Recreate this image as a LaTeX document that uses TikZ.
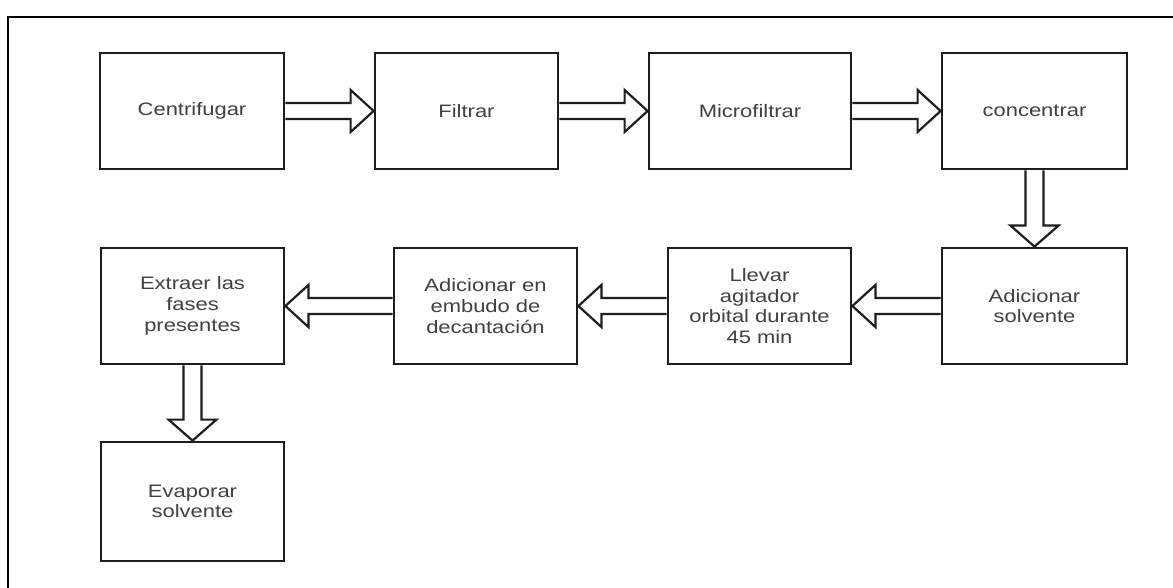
\documentclass[tikz,border=0pt]{standalone}
\usepackage{fontspec}
\setmainfont{Liberation Sans}[FakeStretch=1.22]
\usetikzlibrary{calc}
\definecolor{boxline}{HTML}{1E1E1E}
\definecolor{boxtext}{HTML}{404040}
\tikzset{
  stepbox/.style={draw=boxline, line width=2.8pt, minimum width=#1,
    minimum height=116pt, inner sep=0pt, align=center, text=boxtext,
    font=\fontsize{18}{20.7}\selectfont},
  stepbox/.default=184pt,
  flowarrow/.style={draw=boxline, line width=2.2pt, line join=miter},
  frameline/.style={draw=black, line width=1.5pt}
}
% hollow block arrows between process steps
\newcommand\arrowright[2]{%
  \draw[flowarrow] ($(#1.east)+(0,-8)$) -- ($(#2.west)+(-23,-8)$)
    -- ($(#2.west)+(-23,-21)$) -- (#2.west) -- ($(#2.west)+(-23,21)$)
    -- ($(#2.west)+(-23,8)$) -- ($(#1.east)+(0,8)$);}
\newcommand\arrowleft[2]{%
  \draw[flowarrow] ($(#1.west)+(0,-8)$) -- ($(#2.east)+(23,-8)$)
    -- ($(#2.east)+(23,-21)$) -- (#2.east) -- ($(#2.east)+(23,21)$)
    -- ($(#2.east)+(23,8)$) -- ($(#1.west)+(0,8)$);}
\newcommand\arrowdown[2]{%
  \draw[flowarrow] ($(#1.south)+(-9,0)$) -- ($(#2.north)+(-9,-21)$)
    -- ($(#2.north)+(-24,-21)$) -- (#2.north) -- ($(#2.north)+(24,-21)$)
    -- ($(#2.north)+(9,-21)$) -- ($(#1.south)+(9,0)$);}
\begin{document}
\begin{tikzpicture}[x=1pt, y=-1pt]
  \useasboundingbox (0,0) rectangle (1173,588);
  \fill[white] (0,0) rectangle (1173,588);
  % outer frame (left and top edges)
  \coordinate (fbl) at (8,588);
  \coordinate (ftl) at (8,17);
  \coordinate (ftr) at (1173,17);
  \draw[frameline] (fbl) -- (ftl) -- (ftr);

  % first row
  \node[stepbox] (c1) at (192,111) {Centrifugar};
  \node[stepbox=183pt] (c2) at (466.5,111) {Filtrar};
  \node[stepbox=202pt] (c3) at (750,111) {Microfiltrar};
  \node[stepbox=185pt] (c4) at (1034.5,111) {concentrar};
  % second row
  \node[stepbox=185pt] (c5) at (1034.5,306) {Adicionar\\solvente};
  \node[stepbox=183pt] (c6) at (759.5,306) {Llevar\\agitador\\orbital durante\\45 min};
  \node[stepbox=183pt] (c7) at (485.5,306) {Adicionar en\\embudo de\\decantación};
  \node[stepbox=183pt] (c8) at (192.5,306) {Extraer las\\fases\\presentes};
  % third row
  \node[stepbox=183pt, minimum height=119pt] (c9) at (192.5,501.5) {Evaporar\\solvente};

  \arrowright{c1}{c2}
  \arrowright{c2}{c3}
  \arrowright{c3}{c4}
  \arrowdown{c4}{c5}
  \arrowleft{c5}{c6}
  \arrowleft{c6}{c7}
  \arrowleft{c7}{c8}
  \arrowdown{c8}{c9}
\end{tikzpicture}
\end{document}
